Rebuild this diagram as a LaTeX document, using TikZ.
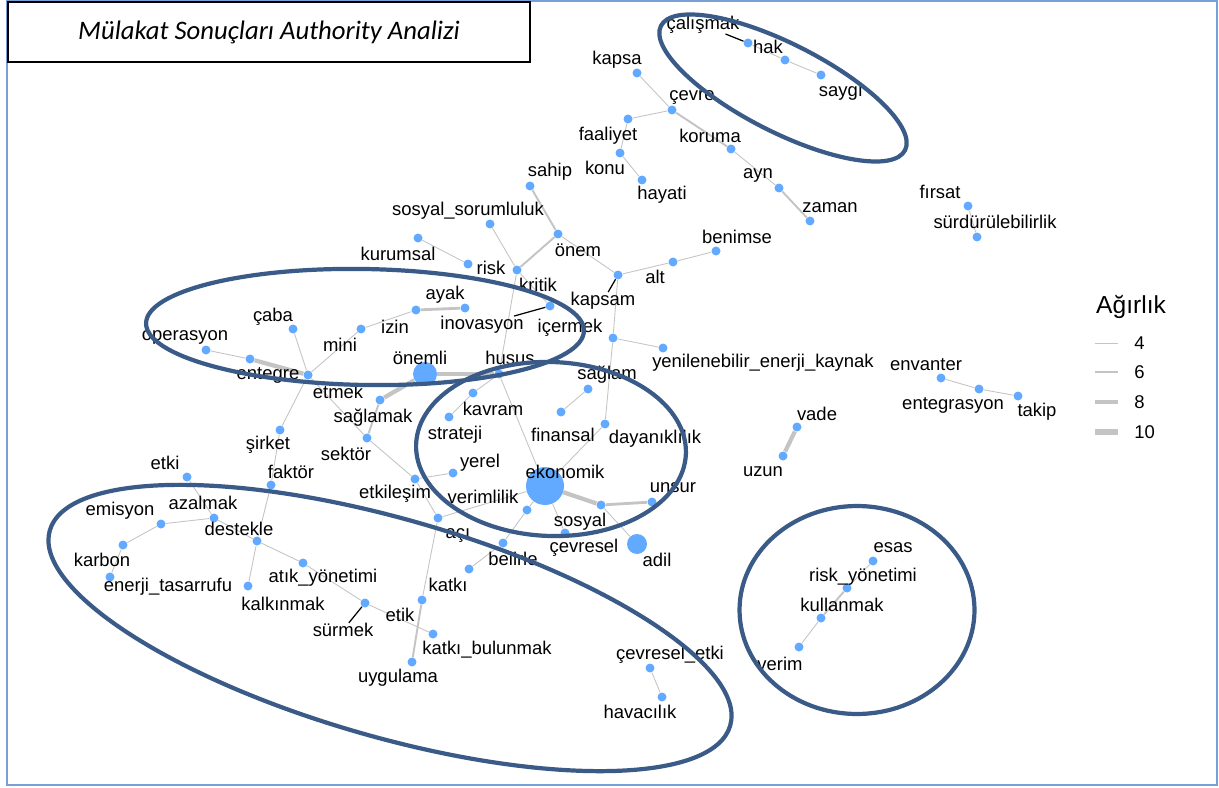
\documentclass[tikz,border=0pt]{standalone}
\usepackage{fontspec}
\setmainfont{Liberation Sans}
\newfontfamily\titlefont{Carlito}
\usetikzlibrary{positioning}
\definecolor{dotblue}{RGB}{97,170,255}
\definecolor{edgegrey}{RGB}{196,196,196}
\definecolor{ringblue}{RGB}{58,90,135}
\definecolor{frameblue}{RGB}{120,160,215}
\pgfdeclarelayer{back}
\pgfsetlayers{back,main}

\begin{document}
\begin{tikzpicture}[x=0.02cm,y=-0.02cm,
  dot/.style={circle,fill=dotblue,inner sep=0pt,minimum size=0.18cm},
  lbl/.style={inner sep=0pt,font=\fontsize{10.5}{12}\selectfont},
  w4/.style={draw=edgegrey,line width=0.5pt},
  w5/.style={draw=edgegrey,line width=1.1pt},
  w6/.style={draw=edgegrey,line width=1.6pt},
  w8/.style={draw=edgegrey,line width=2.4pt},
  seg/.style={draw=black,line width=0.7pt},
  ring/.style={draw=ringblue,line width=2.4pt}]
  \useasboundingbox (0,0) rectangle (1219,787);
  \draw[frameblue,line width=0.8pt] (7,1) rectangle (1217,785);
  \node[draw=black,line width=1pt,fill=white,minimum width=10.44cm,minimum height=1.2cm] (title) at (269,32) {\titlefont\itshape\fontsize{15.2}{17}\selectfont Mülakat Sonuçları Authority Analizi};

  \node[dot] (calismak) at (748,43) {};
  \node[dot] (hak) at (785,60) {};
  \node[dot] (saygi) at (821,75) {};
  \node[dot] (kapsa) at (637,73) {};
  \node[dot] (cevre) at (672,110) {};
  \node[dot] (faaliyet) at (628,119) {};
  \node[dot] (konu) at (620,153) {};
  \node[dot] (hayati) at (642,180) {};
  \node[dot] (koruma) at (731,149) {};
  \node[dot] (ayn) at (779,188) {};
  \node[dot] (zaman) at (810,221) {};
  \node[dot] (sahip) at (530,186) {};
  \node[dot] (sosyalsor) at (490,224) {};
  \node[dot] (onem) at (558,234) {};
  \node[dot] (kurumsal) at (418,238) {};
  \node[dot] (risk) at (468,264) {};
  \node[dot] (kritik) at (517,270) {};
  \node[dot] (kapsam) at (618,275) {};
  \node[dot] (alt) at (673,262) {};
  \node[dot] (benimse) at (716,251) {};
  \node[dot] (ayak) at (465,308) {};
  \node[dot] (izin) at (416,310) {};
  \node[dot] (mini) at (361,329) {};
  \node[dot] (inovasyon) at (550,306) {};
  \node[dot] (icermek) at (613,338) {};
  \node[dot] (yenilenebilir) at (663,348) {};
  \node[dot] (caba) at (293,329) {};
  \node[dot] (operasyon) at (206,350) {};
  \node[dot] (entegre) at (250,359) {};
  \node[dot] (etmek) at (308,375) {};
  \node[dot,minimum size=0.48cm] (onemli) at (425,374) {};
  \node[dot] (husus) at (499,374) {};
  \node[dot] (saglamak) at (380,400) {};
  \node[dot] (sektor) at (367,438) {};
  \node[dot] (sirket) at (280,430) {};
  \node[dot] (faktor) at (271,485) {};
  \node[dot] (kavram) at (473,393) {};
  \node[dot] (strateji) at (449,417) {};
  \node[dot] (saglam) at (588,389) {};
  \node[dot] (finansal) at (561,412) {};
  \node[dot] (dayaniklilik) at (605,424) {};
  \node[dot,minimum size=0.76cm] (ekonomik) at (545,486) {};
  \node[dot] (yerel) at (453,473) {};
  \node[dot] (etkilesim) at (415,479) {};
  \node[dot] (aci) at (438,518) {};
  \node[dot] (verimlilik) at (527,510) {};
  \node[dot] (belirle) at (503,543) {};
  \node[dot] (katki) at (469,569) {};
  \node[dot] (etik) at (422,600) {};
  \node[dot] (uygulama) at (412,662) {};
  \node[dot] (katkibulunmak) at (433,634) {};
  \node[dot] (sosyal) at (601,505) {};
  \node[dot] (unsur) at (652,502) {};
  \node[dot] (cevresel) at (565,533) {};
  \node[dot,minimum size=0.4cm] (adil) at (637,544) {};
  \node[dot] (etki) at (187,477) {};
  \node[dot] (azalmak) at (214,518) {};
  \node[dot] (destekle) at (257,541) {};
  \node[dot] (emisyon) at (161,524) {};
  \node[dot] (karbon) at (123,545) {};
  \node[dot] (enerjitasarrufu) at (110,577) {};
  \node[dot] (kalkinmak) at (248,586) {};
  \node[dot] (atikyonetimi) at (303,563) {};
  \node[dot] (surmek) at (365,603) {};
  \node[dot] (cevreseletki) at (650,668) {};
  \node[dot] (havacilik) at (662,697) {};
  \node[dot] (firsat) at (968,206) {};
  \node[dot] (surdurulebilirlik) at (977,237) {};
  \node[dot] (envanter) at (941,378) {};
  \node[dot] (entegrasyon) at (979,389) {};
  \node[dot] (takip) at (1018,396) {};
  \node[dot] (vade) at (797,427) {};
  \node[dot] (uzun) at (783,456) {};
  \node[dot] (esas) at (873,561) {};
  \node[dot] (riskyonetimi) at (847,588) {};
  \node[dot] (kullanmak) at (821,618) {};
  \node[dot] (verim) at (799,647) {};

  \node[lbl] (l-calismak) at (703,25) {çalışmak};
  \node[lbl] (l-hak) at (768,47) {hak};
  \node[lbl] (l-saygi) at (841,93) {saygı};
  \node[lbl] (l-kapsa) at (617,60) {kapsa};
  \node[lbl] (l-cevre) at (692,97) {çevre};
  \node[lbl] (l-faaliyet) at (608,136) {faaliyet};
  \node[lbl] (l-konu) at (605,168) {konu};
  \node[lbl] (l-hayati) at (662,195) {hayati};
  \node[lbl] (l-koruma) at (710,136) {koruma};
  \node[lbl] (l-ayn) at (758,175) {ayn};
  \node[lbl] (l-zaman) at (830,208) {zaman};
  \node[lbl] (l-sahip) at (550,172) {sahip};
  \node[lbl] (l-sosyalsor) at (468,211) {sosyal\_sorumluluk};
  \node[lbl] (l-onem) at (578,250) {önem};
  \node[lbl] (l-kurumsal) at (398,254) {kurumsal};
  \node[lbl] (l-risk) at (491,268) {risk};
  \node[lbl] (l-kritik) at (538,285) {kritik};
  \node[lbl] (l-kapsam) at (603,301) {kapsam};
  \node[lbl] (l-alt) at (655,277) {alt};
  \node[lbl] (l-benimse) at (737,237) {benimse};
  \node[lbl] (l-ayak) at (445,295) {ayak};
  \node[lbl] (l-izin) at (395,327) {izin};
  \node[lbl] (l-mini) at (340,345) {mini};
  \node[lbl] (l-inovasyon) at (482,325) {inovasyon};
  \node[lbl] (l-icermek) at (570,328) {içermek};
  \node[lbl] (l-yenilenebilir) at (763,363) {yenilenebilir\_enerji\_kaynak};
  \node[lbl] (l-caba) at (273,317) {çaba};
  \node[lbl] (l-operasyon) at (185,337) {operasyon};
  \node[lbl] (l-entegre) at (268,375) {entegre};
  \node[lbl] (l-etmek) at (338,392) {etmek};
  \node[lbl] (l-onemli) at (420,358) {önemli};
  \node[lbl] (l-husus) at (510,358) {husus};
  \node[lbl] (l-saglamak) at (373,418) {sağlamak};
  \node[lbl] (l-sektor) at (346,454) {sektör};
  \node[lbl] (l-sirket) at (268,445) {şirket};
  \node[lbl] (l-faktor) at (291,472) {faktör};
  \node[lbl] (l-kavram) at (493,409) {kavram};
  \node[lbl] (l-strateji) at (455,435) {strateji};
  \node[lbl] (l-saglam) at (607,375) {sağlam};
  \node[lbl] (l-finansal) at (563,435) {finansal};
  \node[lbl] (l-dayaniklilik) at (655,439) {dayanıklılık};
  \node[lbl] (l-ekonomik) at (565,472) {ekonomik};
  \node[lbl] (l-yerel) at (480,463) {yerel};
  \node[lbl] (l-etkilesim) at (395,494) {etkileşim};
  \node[lbl] (l-aci) at (458,535) {açı};
  \node[lbl] (l-verimlilik) at (483,497) {verimlilik};
  \node[lbl] (l-belirle) at (513,559) {belirle};
  \node[lbl] (l-katki) at (448,585) {katkı};
  \node[lbl] (l-etik) at (400,615) {etik};
  \node[lbl] (l-uygulama) at (398,678) {uygulama};
  \node[lbl] (l-katkibulunmak) at (487,650) {katkı\_bulunmak};
  \node[lbl] (l-sosyal) at (580,522) {sosyal};
  \node[lbl] (l-unsur) at (673,488) {unsur};
  \node[lbl] (l-cevresel) at (584,548) {çevresel};
  \node[lbl] (l-adil) at (657,560) {adil};
  \node[lbl] (l-etki) at (165,463) {etki};
  \node[lbl] (l-azalmak) at (203,503) {azalmak};
  \node[lbl] (l-destekle) at (239,529) {destekle};
  \node[lbl] (l-emisyon) at (120,511) {emisyon};
  \node[lbl] (l-karbon) at (102,560) {karbon};
  \node[lbl] (l-enerjitasarrufu) at (168,587) {enerji\_tasarrufu};
  \node[lbl] (l-kalkinmak) at (283,604) {kalkınmak};
  \node[lbl] (l-atikyonetimi) at (323,578) {atık\_yönetimi};
  \node[lbl] (l-surmek) at (343,630) {sürmek};
  \node[lbl] (l-cevreseletki) at (670,655) {çevresel\_etki};
  \node[lbl] (l-havacilik) at (640,712) {havacılık};
  \node[lbl] (l-firsat) at (940,192) {fırsat};
  \node[lbl] (l-surdurulebilirlik) at (995,222) {sürdürülebilirlik};
  \node[lbl] (l-envanter) at (926,365) {envanter};
  \node[lbl] (l-entegrasyon) at (953,405) {entegrasyon};
  \node[lbl] (l-takip) at (1037,412) {takip};
  \node[lbl] (l-vade) at (817,414) {vade};
  \node[lbl] (l-uzun) at (763,472) {uzun};
  \node[lbl] (l-esas) at (893,548) {esas};
  \node[lbl] (l-riskyonetimi) at (863,577) {risk\_yönetimi};
  \node[lbl] (l-kullanmak) at (842,605) {kullanmak};
  \node[lbl] (l-verim) at (780,664) {verim};

  \begin{pgfonlayer}{back}
  \draw[w4] (calismak) -- (hak);
  \draw[w4] (hak) -- (saygi);
  \draw[w4] (kapsa) -- (cevre);
  \draw[w4] (cevre) -- (faaliyet);
  \draw[w5] (cevre) -- (koruma);
  \draw[w4] (faaliyet) -- (konu);
  \draw[w4] (konu) -- (hayati);
  \draw[w4] (koruma) -- (ayn);
  \draw[w5] (ayn) -- (zaman);
  \draw[w5] (sahip) -- (onem);
  \draw[w4] (sosyalsor) -- (kritik);
  \draw[w5] (onem) -- (kritik);
  \draw[w4] (onem) -- (kapsam);
  \draw[w4] (kurumsal) -- (risk);
  \draw[w4] (kapsam) -- (alt);
  \draw[w4] (alt) -- (benimse);
  \draw[w4] (kapsam) -- (icermek);
  \draw[w4] (icermek) -- (yenilenebilir);
  \draw[w4] (icermek) -- (dayaniklilik);
  \draw[w4] (kritik) -- (husus);
  \draw[w4] (kritik) -- (inovasyon);
  \draw[w6] (ayak) -- (izin);
  \draw[w4] (izin) -- (mini);
  \draw[w4] (mini) -- (etmek);
  \draw[w4] (caba) -- (etmek);
  \draw[w4] (operasyon) -- (entegre);
  \draw[w8] (entegre) -- (etmek);
  \draw[w4] (etmek) -- (sirket);
  \draw[w4] (sirket) -- (faktor);
  \draw[w4] (etmek) -- (sektor);
  \draw[w8] (onemli) -- (husus);
  \draw[w8] (onemli) -- (saglamak);
  \draw[w5] (saglamak) -- (sektor);
  \draw[w4] (sektor) -- (etkilesim);
  \draw[w4] (etkilesim) -- (aci);
  \draw[w4] (husus) -- (kavram);
  \draw[w4] (kavram) -- (strateji);
  \draw[w4] (husus) -- (ekonomik);
  \draw[w4] (saglam) -- (finansal);
  \draw[w4] (dayaniklilik) -- (ekonomik);
  \draw[w4] (etkilesim) -- (yerel);
  \draw[w4] (ekonomik) -- (verimlilik);
  \draw[w4] (verimlilik) -- (belirle);
  \draw[w4] (belirle) -- (katki);
  \draw[w4] (aci) -- (ekonomik);
  \draw[w4] (aci) -- (etik);
  \draw[w5] (etik) -- (uygulama);
  \draw[w4] (surmek) -- (katkibulunmak);
  \draw[w8] (ekonomik) -- (sosyal);
  \draw[w6] (sosyal) -- (unsur);
  \draw[w4] (ekonomik) -- (cevresel);
  \draw[w4] (sosyal) -- (adil);
  \draw[w4] (etki) -- (azalmak);
  \draw[w4] (azalmak) -- (emisyon);
  \draw[w4] (emisyon) -- (karbon);
  \draw[w4] (karbon) -- (enerjitasarrufu);
  \draw[w4] (azalmak) -- (destekle);
  \draw[w4] (faktor) -- (destekle);
  \draw[w4] (destekle) -- (kalkinmak);
  \draw[w4] (destekle) -- (atikyonetimi);
  \draw[w4] (atikyonetimi) -- (surmek);
  \draw[w4] (cevreseletki) -- (havacilik);
  \draw[w4] (firsat) -- (surdurulebilirlik);
  \draw[w4] (envanter) -- (entegrasyon);
  \draw[w4] (entegrasyon) -- (takip);
  \draw[w8] (vade) -- (uzun);
  \draw[w4] (esas) -- (riskyonetimi);
  \draw[w5] (riskyonetimi) -- (kullanmak);
  \draw[w4] (kullanmak) -- (verim);
  \end{pgfonlayer}

  \draw[seg] (l-calismak) -- (calismak);
  \draw[seg] (l-kapsam) -- (kapsam);
  \draw[seg] (l-inovasyon) -- (inovasyon);
  \draw[seg] (l-surmek) -- (surmek);

  % legend
  \node[anchor=west,font=\fontsize{14}{16}\selectfont] (leg) at (1090,307) {Ağırlık};
  \foreach \y/\w/\t in {343/0.5/4,372/1.4/6,402/2.3/8,432/3.2/10}{
    \draw[edgegrey,line width=\w pt] (1095,\y) -- (1118,\y);
    \node[lbl,anchor=west] at (1134,\y) {\t};
  }

  % groups
  \draw[ring,rotate around={-27:(783,88)}] (783,88) ellipse [x radius=2.74cm,y radius=0.88cm];
  \draw[ring,rotate around={-1:(365,327)}] (365,327) ellipse [x radius=4.38cm,y radius=1.16cm];
  \draw[ring,rotate around={-2:(551,449)}] (551,449) ellipse [x radius=2.7cm,y radius=1.74cm];
  \draw[ring,rotate around={-16:(390,628)}] (390,628) ellipse [x radius=7.08cm,y radius=2.18cm];
  \draw[ring] (857,610) ellipse [x radius=2.35cm,y radius=2.08cm];
\end{tikzpicture}
\end{document}
